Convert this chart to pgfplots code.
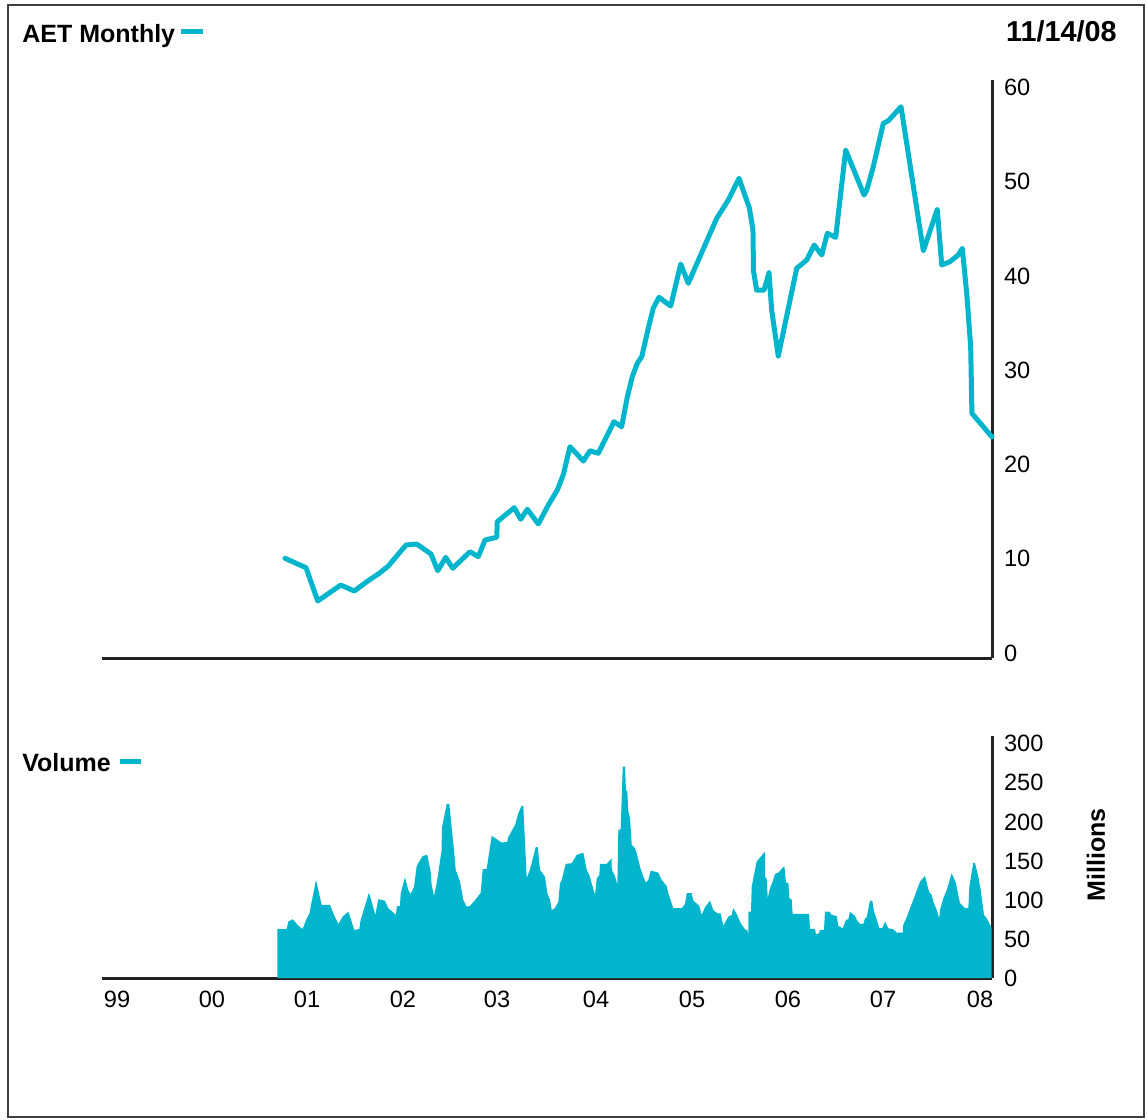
\documentclass[border=0pt]{standalone}
\usepackage{fontspec}
\setmainfont{Liberation Sans}
\usepackage{pgfplots}
\pgfplotsset{compat=1.18}
\usepackage{pgfplotstable}

\definecolor{aetcyan}{HTML}{00B5CC}
\definecolor{axisdark}{HTML}{222222}

% monthly closing price (decimal year, dollars)
\pgfplotstableread{
year price
2001.033 10.05
2001.267 9.05
2001.397 5.52
2001.652 7.21
2001.803 6.58
2001.941 7.56
2002.070 8.38
2002.181 9.23
2002.378 11.46
2002.497 11.56
2002.656 10.50
2002.730 8.73
2002.819 10.15
2002.897 8.99
2003.089 10.75
2003.181 10.22
2003.256 11.99
2003.386 12.28
2003.392 13.93
2003.581 15.42
2003.652 14.19
2003.726 15.25
2003.848 13.69
2003.959 15.70
2004.059 17.29
2004.126 18.94
2004.200 21.89
2004.348 20.37
2004.422 21.46
2004.514 21.19
2004.689 24.54
2004.774 24.01
2004.837 27.19
2004.892 29.32
2004.948 30.74
2004.997 31.44
2005.078 34.80
2005.126 36.60
2005.189 37.74
2005.319 36.82
2005.430 41.27
2005.514 39.23
2005.830 46.12
2005.959 48.06
2006.078 50.37
2006.194 47.18
2006.233 44.88
2006.239 40.53
2006.274 38.51
2006.356 38.51
2006.411 40.35
2006.441 36.39
2006.514 31.51
2006.719 40.82
2006.830 41.70
2006.914 43.29
2006.997 42.23
2007.059 44.53
2007.152 44.11
2007.263 53.37
2007.467 48.59
2007.497 49.12
2007.570 51.60
2007.681 56.20
2007.737 56.48
2007.878 57.96
2008.126 42.68
2008.281 47.08
2008.330 41.17
2008.422 41.52
2008.514 42.23
2008.559 42.94
2008.608 38.16
2008.652 32.50
2008.663 26.84
2008.666 25.43
2008.889 22.92
}\pricetable

% trading volume (decimal year, millions of shares)
\pgfplotstableread{
year vol
2000.948 62.8
2001.052 62.8
2001.070 72.2
2001.119 75.3
2001.181 67.1
2001.230 62.8
2001.267 74.4
2001.303 82.1
2001.378 125.6
2001.441 93.6
2001.533 93.6
2001.578 80.8
2001.626 69.2
2001.674 78.6
2001.737 85.0
2001.774 72.2
2001.803 61.5
2001.859 62.8
2001.874 74.4
2001.967 109.4
2002.037 80.8
2002.070 100.9
2002.144 99.1
2002.181 89.4
2002.267 80.8
2002.274 91.4
2002.311 92.7
2002.319 108.6
2002.367 129.1
2002.403 112.8
2002.430 107.7
2002.467 117.1
2002.497 143.6
2002.563 156.4
2002.614 157.7
2002.652 136.3
2002.663 119.2
2002.689 105.1
2002.719 121.4
2002.774 164.1
2002.776 191.9
2002.830 223.1
2002.859 223.1
2002.886 191.9
2002.911 164.1
2002.930 138.5
2002.978 123.5
2003.014 100.0
2003.052 91.4
2003.089 92.3
2003.163 102.2
2003.208 109.4
2003.230 139.4
2003.274 139.7
2003.330 182.1
2003.441 173.5
2003.503 174.7
2003.514 180.4
2003.589 196.0
2003.626 211.2
2003.663 220.5
2003.681 220.5
2003.719 127.8
2003.756 139.4
2003.819 167.6
2003.841 167.6
2003.867 138.5
2003.922 129.9
2003.948 108.6
2003.978 100.0
2003.997 87.2
2004.033 89.4
2004.070 97.8
2004.089 121.4
2004.108 125.6
2004.152 146.2
2004.219 147.1
2004.274 157.7
2004.348 160.6
2004.386 138.5
2004.414 132.1
2004.478 106.4
2004.497 127.8
2004.526 132.1
2004.533 146.2
2004.608 146.2
2004.663 153.5
2004.664 138.5
2004.700 130.8
2004.726 119.2
2004.737 189.7
2004.763 190.6
2004.786 270.9
2004.811 270.9
2004.822 241.0
2004.837 238.8
2004.848 213.2
2004.867 204.7
2004.886 170.5
2004.922 166.3
2004.941 159.9
2004.978 142.7
2005.014 129.9
2005.044 122.2
2005.070 125.6
2005.097 137.6
2005.181 135.0
2005.219 125.6
2005.274 117.9
2005.292 108.6
2005.348 89.4
2005.441 89.4
2005.478 94.9
2005.497 108.6
2005.552 108.6
2005.570 99.1
2005.637 92.3
2005.663 80.8
2005.700 90.6
2005.756 99.1
2005.792 87.2
2005.837 82.9
2005.874 82.9
2005.903 66.7
2005.959 78.6
2005.997 80.8
2006.014 89.4
2006.052 82.1
2006.097 70.1
2006.144 62.4
2006.170 61.5
2006.181 55.1
2006.182 85.0
2006.211 85.0
2006.219 117.1
2006.274 149.1
2006.367 161.9
2006.368 129.9
2006.386 126.5
2006.397 102.2
2006.422 115.0
2006.452 123.5
2006.478 133.3
2006.514 135.0
2006.581 143.6
2006.600 122.2
2006.626 122.2
2006.637 102.2
2006.663 100.9
2006.674 82.1
2006.856 82.1
2006.867 62.8
2006.922 62.8
2006.933 56.4
2006.967 57.3
2006.978 61.5
2007.022 61.5
2007.033 85.0
2007.081 85.0
2007.108 80.8
2007.163 79.5
2007.181 66.7
2007.230 63.7
2007.244 67.9
2007.267 74.4
2007.292 75.3
2007.311 85.0
2007.367 79.5
2007.386 74.4
2007.422 69.2
2007.459 69.2
2007.478 76.5
2007.497 77.8
2007.533 99.1
2007.559 99.1
2007.578 85.0
2007.608 75.3
2007.637 63.7
2007.674 64.5
2007.700 72.2
2007.737 63.7
2007.792 62.4
2007.830 58.1
2007.897 58.1
2007.903 67.9
2007.941 77.8
2007.978 89.4
2008.014 100.0
2008.052 111.9
2008.089 123.5
2008.144 130.8
2008.163 122.2
2008.189 110.6
2008.219 106.4
2008.237 97.8
2008.274 87.2
2008.303 76.5
2008.311 87.2
2008.348 102.2
2008.386 112.8
2008.441 134.2
2008.489 121.4
2008.514 106.4
2008.533 95.8
2008.589 89.4
2008.626 89.4
2008.637 117.1
2008.681 147.8
2008.700 147.1
2008.737 129.9
2008.763 112.8
2008.800 80.8
2008.837 75.3
2008.886 63.7
}\voltable

\pgfplotsset{
  chartbase/.style={
    scale only axis,
    width=445pt,
    xmin=1999, xmax=2008.889,
    axis x line*=bottom,
    axis y line*=right,
    axis line style={axisdark, line width=1.5pt},
    major tick length=0pt,
    ticklabel pos=right,
    tick label style={font=\fontsize{11.8}{13}\selectfont, text=black},
    /pgf/number format/assume math mode=true,
    yticklabel style={xshift=2.5pt},
    clip=false,
  },
}

\begin{document}
\begin{tikzpicture}
\useasboundingbox (0,0) rectangle (573.5pt,-560pt);
\draw[color=black!75, line width=0.8pt] (4pt,-2.5pt) rectangle (572pt,-558.5pt);

% price panel
\begin{axis}[
  chartbase,
  at={(51pt,-329pt)}, anchor=south west,
  height=289pt,
  ymin=-0.53, ymax=60.8,
  ytick={0,10,20,30,40,50,60},
  xtick=\empty,
]
\addplot[color=aetcyan, line width=2.5pt, line join=round, line cap=round] table[x=year, y=price] {\pricetable};
\end{axis}

% volume panel
\begin{axis}[
  chartbase,
  at={(51pt,-489pt)}, anchor=south west,
  height=121pt,
  ymin=0, ymax=310,
  ytick={0,50,100,150,200,250,300},
  xtick={1999.167,2000.222,2001.278,2002.344,2003.389,2004.489,2005.556,2006.622,2007.678,2008.756},
  xticklabels={99,00,01,02,03,04,05,06,07,08},
  xticklabel style={yshift=-3pt},
]
\addplot[fill=aetcyan, draw=none] table[x=year, y=vol] {\voltable} \closedcycle;
\end{axis}

% titles
\node[anchor=base west, inner sep=0pt, font=\bfseries\fontsize{12.5}{14}\selectfont] at (11pt,-21pt) {AET Monthly};
\fill[aetcyan] (90.5pt,-14.5pt) rectangle (101.5pt,-17pt);
\node[anchor=base east, inner sep=0pt, font=\bfseries\fontsize{14.4}{16}\selectfont] at (558.5pt,-20.5pt) {11/14/08};
\node[anchor=base west, inner sep=0pt, font=\bfseries\fontsize{12.5}{14}\selectfont] at (11pt,-385.5pt) {Volume};
\fill[aetcyan] (60pt,-379.5pt) rectangle (70.5pt,-382pt);
\node[rotate=90, inner sep=0pt, font=\bfseries\fontsize{12.5}{14}\selectfont] at (548pt,-427.5pt) {Millions};
\end{tikzpicture}
\end{document}
